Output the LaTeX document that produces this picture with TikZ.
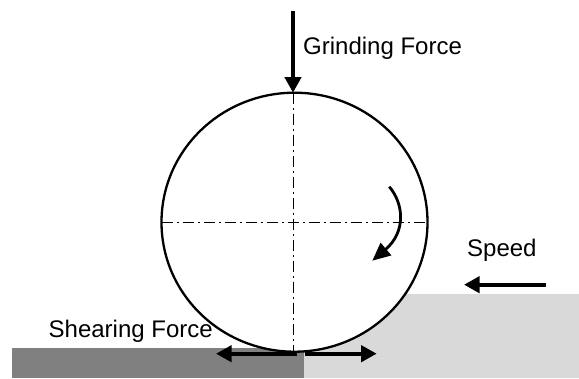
\documentclass[tikz,border=0pt]{standalone}
\usepackage{fontspec}
\setmainfont{Liberation Sans}
\usetikzlibrary{arrows.meta,shapes.geometric}
\tikzset{
  px/.style={x=1pt,y=-1pt},
  force/.style={line width=4pt,-{Triangle[length=15.5pt,width=16pt]}},
  turn/.style={line width=2.8pt,-{Triangle[length=18pt,width=16pt]}},
  centerline/.style={line width=0.9pt,dash pattern=on 11pt off 4pt on 2pt off 4pt},
  wheel/.style={line width=2.3pt,draw=black,fill=white,ellipse,minimum width=266pt,minimum height=259pt,inner sep=0pt,outer sep=0pt},
  label/.style={inner sep=0pt,anchor=base west,text=black,font=\fontsize{24pt}{28pt}\selectfont},
}
\begin{document}
\begin{tikzpicture}[px]
\useasboundingbox (0,0) rectangle (579,378);
\fill[white] (0,0) rectangle (579,378);
\fill[black!15] (304,294) rectangle (579,378);
\fill[black!50] (12,347.7) rectangle (304,378);
\node[label] (shear) at (48.5,337.7) {Shearing Force};
\node[wheel] (w) at (294.5,222.2) {};
\coordinate (gtop) at (293,11);
\coordinate (vt) at (gtop |- w.north);
\coordinate (vb) at (gtop |- w.south);
\draw[centerline] (vt) -- (vb);
\draw[centerline] (w.west) -- (w.east);
\draw[force] (gtop) -- (vt);
\node[label] (grind) at (303,54) {Grinding Force};
\node[label] (speedl) at (467,256.7) {Speed};
\coordinate (s1) at (545.7,284.7);
\coordinate (s2) at (464,284.7);
\draw[force] (s1) -- (s2);
\coordinate (c1) at (296.7,353.7);
\coordinate (c2) at (216,353.7);
\coordinate (c3) at (304.5,353.7);
\coordinate (c4) at (376.7,353.7);
\draw[force] (c1) -- (c2);
\draw[force] (c3) -- (c4);
\coordinate (r1) at (389.3,186.7);
\coordinate (r2) at (372.3,260.7);
\draw[turn] (r1) .. controls (404,204) and (406,232) .. (r2);
\end{tikzpicture}
\end{document}
